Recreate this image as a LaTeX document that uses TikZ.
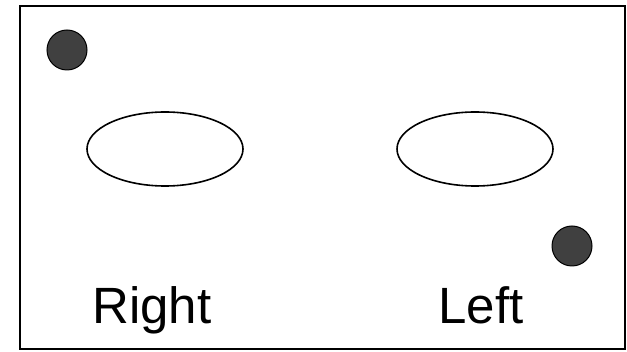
\documentclass[tikz,border=0pt]{standalone}
\usepackage{fontspec}
\setmainfont{Liberation Sans}
\usetikzlibrary{shapes.geometric}
\begin{document}
\begin{tikzpicture}[x=1pt,y=-1pt,
  frame/.style={draw=black,line width=2pt},
  dot/.style={circle,draw=black,line width=1pt,fill=black!75,minimum size=40pt,inner sep=0pt},
  eye/.style={ellipse,draw=black,line width=1.6pt,minimum width=156pt,minimum height=74pt,inner sep=0pt},
  lbl/.style={anchor=base,font=\fontsize{51}{51}\selectfont,inner sep=0pt}]
\useasboundingbox (0,0) rectangle (627,352);
\draw[frame] (20,6) rectangle (625,349);
\node[dot] (d1) at (67,50) {};
\node[dot] (d2) at (572,246) {};
\node[eye] (e1) at (165,149) {};
\node[eye] (e2) at (475,149) {};
\node[lbl] (r) at (152,324) {Right};
\node[lbl] (l) at (481,324) {Left};
\end{tikzpicture}
\end{document}
